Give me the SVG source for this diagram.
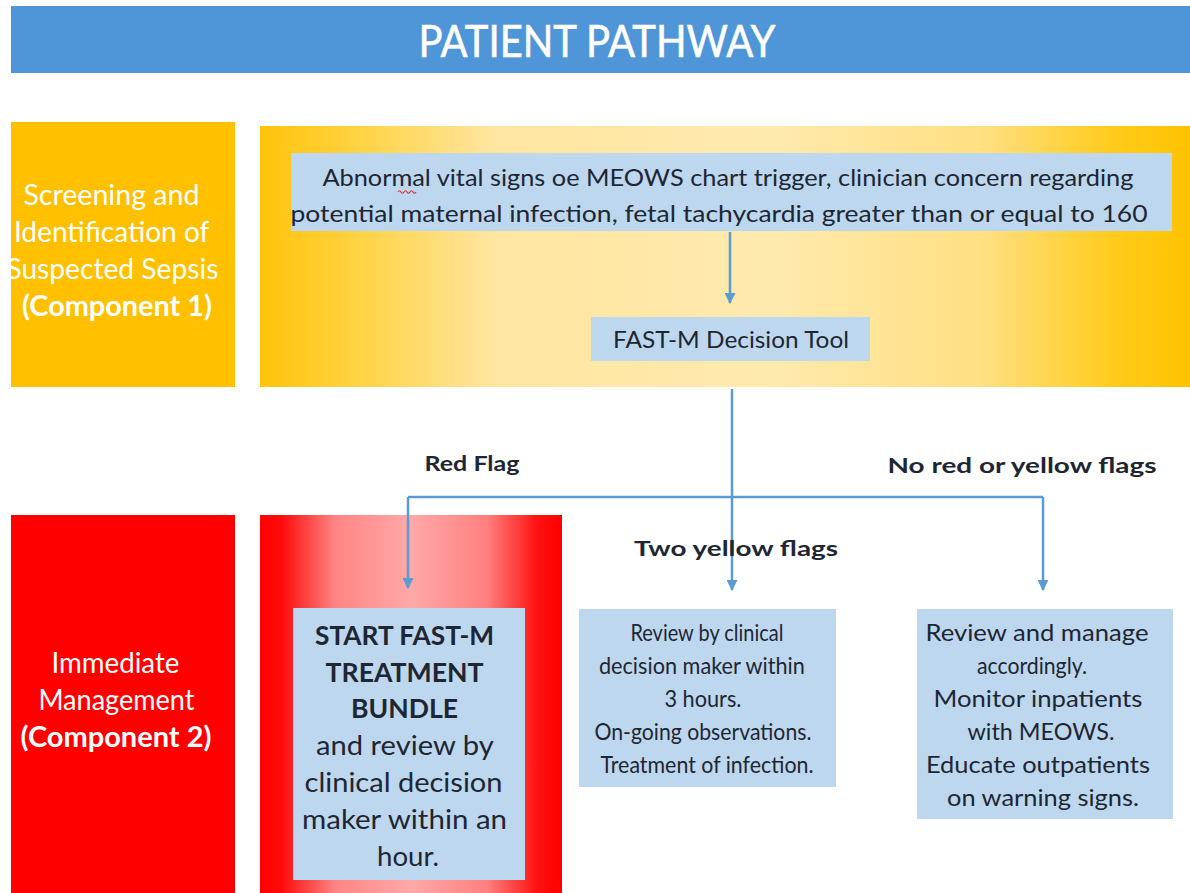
<svg xmlns="http://www.w3.org/2000/svg" width="1190" height="893" viewBox="0 0 1190 893">
  <defs>
    <linearGradient id="goldBand" x1="0" y1="0" x2="1" y2="0">
      <stop offset="0" stop-color="#FFC30A"/>
      <stop offset="0.1" stop-color="#FFD23F"/>
      <stop offset="0.25" stop-color="#FFE5A0"/>
      <stop offset="0.55" stop-color="#FFEAAE"/>
      <stop offset="0.78" stop-color="#FFDF80"/>
      <stop offset="0.92" stop-color="#FFCB1A"/>
      <stop offset="1" stop-color="#FFC200"/>
    </linearGradient>
    <linearGradient id="redBand" x1="0" y1="0" x2="1" y2="0">
      <stop offset="0" stop-color="#FF0000"/>
      <stop offset="0.07" stop-color="#FF0A0A"/>
      <stop offset="0.25" stop-color="#FF8585"/>
      <stop offset="0.5" stop-color="#FFA8A8"/>
      <stop offset="0.75" stop-color="#FF8080"/>
      <stop offset="0.92" stop-color="#FF1010"/>
      <stop offset="1" stop-color="#FF0000"/>
    </linearGradient>
    <marker id="arrow" markerUnits="userSpaceOnUse" markerWidth="11" markerHeight="11" viewBox="0 0 10 10" refX="9" refY="5" orient="auto">
      <path d="M0,0 L10,5 L0,10 Z" fill="#5B9BD5"/>
    </marker>
    <style>
      .t { font-family: Lato, "Open Sans", "Liberation Sans", sans-serif; text-anchor: middle; }
      .dark { fill: #1E2633; }
      .white { fill: #FFFFFF; }
      .b { font-weight: bold; }
      .box { fill: #BDD7EE; }
      .conn { stroke: #5B9BD5; stroke-width: 2.5; fill: none; }
    </style>
  </defs>

  <rect width="1190" height="893" fill="#FFFFFF"/>

  <!-- title bar -->
  <g id="header">
    <rect x="11" y="6" width="1179" height="67" fill="#4E96D7"/>
    <text class="t white" x="597" y="57" font-size="44" stroke="#FFFFFF" stroke-width="0.6" textLength="357" lengthAdjust="spacingAndGlyphs">PATIENT PATHWAY</text>
  </g>

  <!-- row 1: screening -->
  <g id="component1">
    <rect x="11" y="122" width="224" height="265" fill="#FFC000"/>
    <text class="t white" font-size="28">
      <tspan x="115" y="205" textLength="176" lengthAdjust="spacingAndGlyphs">Screening and</tspan>
      <tspan x="115" y="242" textLength="195" lengthAdjust="spacingAndGlyphs">Identification of</tspan>
      <tspan x="116" y="279" textLength="212" lengthAdjust="spacingAndGlyphs">Suspected Sepsis</tspan>
      <tspan class="b" x="117" y="316" textLength="190" lengthAdjust="spacingAndGlyphs">(Component 1)</tspan>
    </text>
  </g>

  <g id="screening-panel">
    <rect x="260" y="126" width="930" height="261" fill="url(#goldBand)"/>
  </g>

  <g id="trigger">
    <rect class="box" x="291" y="153" width="881" height="78"/>
    <text class="t dark" font-size="24">
      <tspan x="731" y="186" textLength="811" lengthAdjust="spacingAndGlyphs">Abnormal vital signs oe MEOWS chart trigger, clinician concern regarding</tspan>
      <tspan x="719" y="222" textLength="857" lengthAdjust="spacingAndGlyphs">potential maternal infection, fetal tachycardia greater than or equal to 160</tspan>
    </text>
    <path d="M398,192 q1.5,-2.5 3,0 t3,0 t3,0 t3,0 t3,0 t3,0" stroke="#E03030" stroke-width="1.2" fill="none"/>
  </g>

  <g id="decision-tool">
    <rect class="box" x="591" y="317" width="279" height="44"/>
    <text class="t dark" x="731" y="348" font-size="24" textLength="236" lengthAdjust="spacingAndGlyphs">FAST-M Decision Tool</text>
  </g>

  <!-- row 2: immediate management -->
  <g id="component2">
    <rect x="11" y="515" width="224" height="378" fill="#FF0000"/>
    <text class="t white" font-size="28">
      <tspan x="119" y="673" textLength="128" lengthAdjust="spacingAndGlyphs">Immediate</tspan>
      <tspan x="120" y="710" textLength="156" lengthAdjust="spacingAndGlyphs">Management</tspan>
      <tspan class="b" x="116" y="747" textLength="191" lengthAdjust="spacingAndGlyphs">(Component 2)</tspan>
    </text>
  </g>

  <g id="red-flag-panel">
    <rect x="260" y="515" width="302" height="378" fill="url(#redBand)"/>
  </g>

  <g id="red-flag-action">
    <rect class="box" x="293" y="608" width="232" height="272"/>
    <text class="t dark" font-size="27">
      <tspan class="b" x="408" y="645" textLength="179" lengthAdjust="spacingAndGlyphs">START FAST-M</tspan>
      <tspan class="b" x="408" y="682" textLength="158" lengthAdjust="spacingAndGlyphs">TREATMENT</tspan>
      <tspan class="b" x="408" y="718" textLength="107" lengthAdjust="spacingAndGlyphs">BUNDLE</tspan>
      <tspan x="408" y="755" textLength="177" lengthAdjust="spacingAndGlyphs">and review by</tspan>
      <tspan x="407" y="792" textLength="198" lengthAdjust="spacingAndGlyphs">clinical decision</tspan>
      <tspan x="408" y="829" textLength="205" lengthAdjust="spacingAndGlyphs">maker within an</tspan>
      <tspan x="408" y="866" textLength="62" lengthAdjust="spacingAndGlyphs">hour.</tspan>
    </text>
  </g>

  <g id="yellow-flag-action">
    <rect class="box" x="579" y="609" width="257" height="178"/>
    <text class="t dark" font-size="24">
      <tspan x="710" y="641" textLength="153" lengthAdjust="spacingAndGlyphs">Review by clinical</tspan>
      <tspan x="705" y="674" textLength="206" lengthAdjust="spacingAndGlyphs">decision maker within</tspan>
      <tspan x="706" y="707" textLength="77" lengthAdjust="spacingAndGlyphs">3 hours.</tspan>
      <tspan x="706" y="740" textLength="217" lengthAdjust="spacingAndGlyphs">On-going observations.</tspan>
      <tspan x="707" y="773" textLength="213" lengthAdjust="spacingAndGlyphs">Treatment of infection.</tspan>
    </text>
  </g>

  <g id="no-flag-action">
    <rect class="box" x="917" y="609" width="256" height="210"/>
    <text class="t dark" font-size="24">
      <tspan x="1040" y="641" textLength="223" lengthAdjust="spacingAndGlyphs">Review and manage</tspan>
      <tspan x="1035" y="674" textLength="110" lengthAdjust="spacingAndGlyphs">accordingly.</tspan>
      <tspan x="1041" y="707" textLength="209" lengthAdjust="spacingAndGlyphs">Monitor inpatients</tspan>
      <tspan x="1044" y="740" textLength="147" lengthAdjust="spacingAndGlyphs">with MEOWS.</tspan>
      <tspan x="1041" y="773" textLength="224" lengthAdjust="spacingAndGlyphs">Educate outpatients</tspan>
      <tspan x="1043" y="806" textLength="192" lengthAdjust="spacingAndGlyphs">on warning signs.</tspan>
    </text>
  </g>

  <!-- connectors -->
  <g id="connectors">
    <path class="conn" d="M730,232 V303" marker-end="url(#arrow)"/>
    <path class="conn" d="M732,389 V590" marker-end="url(#arrow)"/>
    <path class="conn" d="M408,497 H1043"/>
    <path class="conn" d="M408,497 V588" marker-end="url(#arrow)"/>
    <path class="conn" d="M1043,497 V590" marker-end="url(#arrow)"/>
  </g>

  <!-- branch labels -->
  <g id="labels">
    <text class="t dark b" x="472" y="471" font-size="21" textLength="95" lengthAdjust="spacingAndGlyphs">Red Flag</text>
    <text class="t dark b" x="1022" y="473" font-size="21" textLength="269" lengthAdjust="spacingAndGlyphs">No red or yellow flags</text>
    <text class="t dark b" x="736" y="556" font-size="21" textLength="204" lengthAdjust="spacingAndGlyphs">Two yellow flags</text>
  </g>
</svg>
